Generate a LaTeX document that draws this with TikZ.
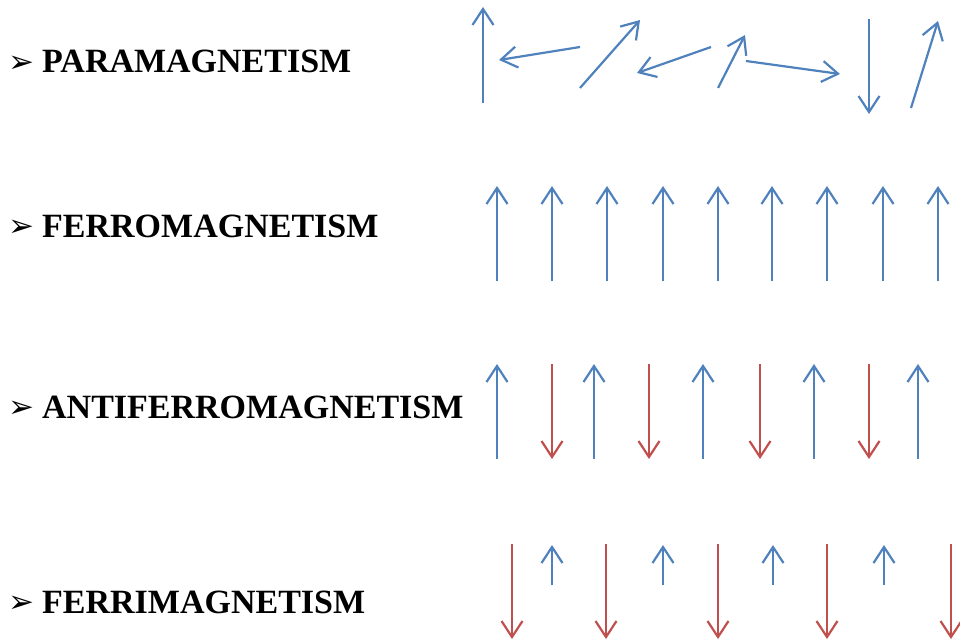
\documentclass[tikz,border=0pt]{standalone}
\usepackage{fontspec}
\setmainfont{Liberation Serif}
\newfontfamily\dingfont{DejaVu Sans}
\usetikzlibrary{arrows.meta,positioning}
\definecolor{SpinBlue}{RGB}{79,129,189}
\definecolor{SpinRed}{RGB}{192,80,77}
\tikzset{
  spinblue/.style={-{Straight Barb[length=16pt,width=21pt]},line width=2.2pt,color=SpinBlue},
  spinred/.style={spinblue,color=SpinRed},
  phaselabel/.style={anchor=base west,inner sep=0pt,
    font=\bfseries\fontsize{34}{40}\selectfont},
  phasebullet/.style={anchor=base east,inner sep=0pt,
    font=\dingfont\fontsize{31}{36}\selectfont}
}

\begin{document}
\begin{tikzpicture}[x=1pt,y=-1pt]
  \useasboundingbox (0,0) rectangle (960,642);
  \node[phaselabel] (para) at (42,73) {PARAMAGNETISM};
  \node[phaselabel] (ferro) at (42,237) {FERROMAGNETISM};
  \node[phaselabel] (antiferro) at (42,418) {ANTIFERROMAGNETISM};
  \node[phaselabel] (ferri) at (42,613) {FERRIMAGNETISM};
  \node[phasebullet] (parab) at ([xshift=-7pt,yshift=1pt]para.base west) {➢};
  \node[phasebullet] (ferrob) at ([xshift=-7pt,yshift=1pt]ferro.base west) {➢};
  \node[phasebullet] (antiferrob) at ([xshift=-7pt,yshift=1pt]antiferro.base west) {➢};
  \node[phasebullet] (ferrib) at ([xshift=-7pt,yshift=1pt]ferri.base west) {➢};
  \foreach \xa/\ya/\xb/\yb in {483/103/483/7, 580/47/499/60, 580/88/640/20,
      711/47/637/73, 718/88/745/35, 746/61/840/74, 869/19/869/114, 911/108/938/21}
    \draw[spinblue] (\xa,\ya) -- (\xb,\yb);
  \foreach \x in {497,552,607,663,718,772,827,883,938}
    \draw[spinblue] (\x,281) -- (\x,186);
  \foreach \x in {497,594,703,814,918}
    \draw[spinblue] (\x,459) -- (\x,364);
  \foreach \x in {552,649,760,869}
    \draw[spinred] (\x,364) -- (\x,459);
  \foreach \x in {512,606,718,827,951}
    \draw[spinred] (\x,544) -- (\x,639);
  \foreach \x in {552,663,773,884}
    \draw[spinblue] (\x,585) -- (\x,545);
\end{tikzpicture}
\end{document}
